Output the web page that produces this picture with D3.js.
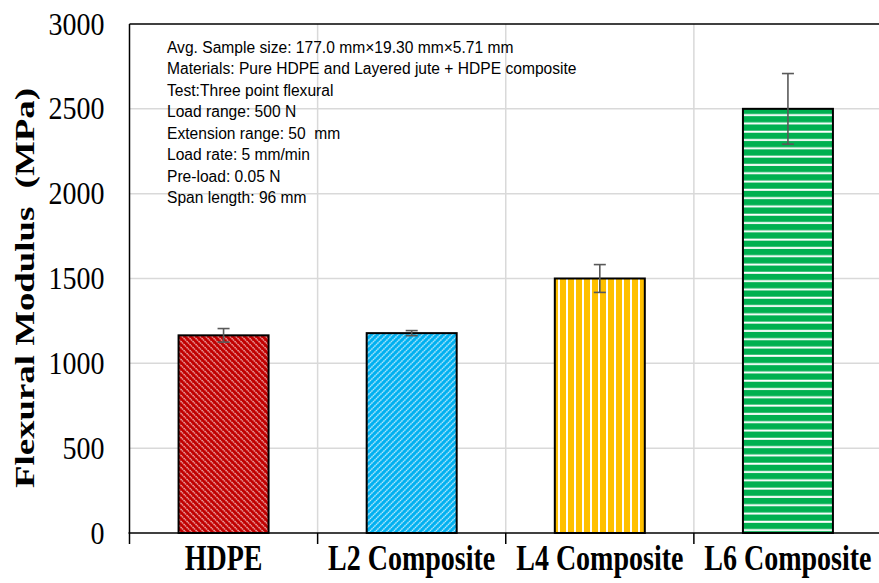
<!DOCTYPE html>
<html>
<head>
<meta charset="utf-8">
<script src="https://cdn.jsdelivr.net/npm/d3@7"></script>
<style>
  html, body { margin: 0; padding: 0; background: #fff; }
  svg { display: block; }
</style>
</head>
<body>
<svg id="chart" width="879" height="583"></svg>
<script>
const categories = ["HDPE", "L2 Composite", "L4 Composite", "L6 Composite"];
const modulus = [1165, 1178, 1500, 2500];
const errors = [40, 15, 82, 208];
const yTicks = [0, 500, 1000, 1500, 2000, 2500, 3000];
const yTitle = "Flexural Modulus  (MPa)";
const notes = [
  "Avg. Sample size: 177.0 mm×19.30 mm×5.71 mm",
  "Materials: Pure HDPE and Layered jute + HDPE composite",
  "Test:Three point flexural",
  "Load range: 500 N",
  "Extension range: 50  mm",
  "Load rate: 5 mm/min",
  "Pre-load: 0.05 N",
  "Span length: 96 mm"
];

(function () {
const svg = d3.select("#chart");
const pL = 129.5, pR = 882, pT = 24, pB = 533;
const serif = "'Liberation Serif', 'Times New Roman', serif";

const x = d3.scaleBand().domain(categories).range([pL, pR]).paddingInner(0).paddingOuter(0);
const y = d3.scaleLinear().domain([0, 3000]).range([pB, pT]);

const defs = svg.append("defs");
function diag(id, color, angle, lineColor) {
  const p = defs.append("pattern").attr("id", id).attr("patternUnits", "userSpaceOnUse")
    .attr("width", 4.24).attr("height", 4.24).attr("patternTransform", `rotate(${angle})`);
  p.append("rect").attr("width", 4.24).attr("height", 4.24).attr("fill", color);
  p.append("line").attr("x1", 1).attr("x2", 1).attr("y1", 0).attr("y2", 4.24)
    .attr("stroke", lineColor).attr("stroke-width", 1.2).attr("stroke-dasharray", "1.4 0.7");
}
diag("p0", "#C00000", -45, "#f8d0d0");
diag("p1", "#00B0F0", 45, "#e8f8ff");
{
  const p = defs.append("pattern").attr("id", "p2").attr("patternUnits", "userSpaceOnUse")
    .attr("width", 8).attr("height", 8);
  p.append("rect").attr("width", 8).attr("height", 8).attr("fill", "#FFC000");
  p.append("rect").attr("x", 6).attr("width", 2).attr("height", 8).attr("fill", "#fff");
}
{
  const p = defs.append("pattern").attr("id", "p3").attr("patternUnits", "userSpaceOnUse")
    .attr("width", 8).attr("height", 8.3);
  p.append("rect").attr("width", 8).attr("height", 8.3).attr("fill", "#00B050");
  p.append("rect").attr("y", 6.2).attr("width", 8).attr("height", 2).attr("fill", "#fff");
}

svg.append("g").selectAll("line").data(yTicks.filter(d => d > 0 && d < 3000)).join("line")
  .attr("x1", pL).attr("x2", 879).attr("y1", d => y(d)).attr("y2", d => y(d))
  .attr("stroke", "#d9d9d9").attr("stroke-width", 1.5);
svg.append("g").selectAll("line").data(categories.slice(1)).join("line")
  .attr("x1", d => x(d)).attr("x2", d => x(d)).attr("y1", pT).attr("y2", pB)
  .attr("stroke", "#d9d9d9").attr("stroke-width", 1.5);

svg.append("line").attr("x1", pL).attr("x2", 879).attr("y1", pT).attr("y2", pT)
  .attr("stroke", "#000").attr("stroke-width", 1.5);

const bw = 90;
svg.append("g").selectAll("rect").data(categories).join("rect")
  .attr("x", d => x(d) + x.bandwidth() / 2 - bw / 2)
  .attr("width", bw)
  .attr("y", (d, i) => y(modulus[i]))
  .attr("height", (d, i) => pB - y(modulus[i]))
  .attr("fill", (d, i) => `url(#p${i})`)
  .attr("stroke", "#000").attr("stroke-width", 2);

const eg = svg.append("g").attr("stroke", "#595959").attr("stroke-width", 1.6);
categories.forEach((c, i) => {
  const cx = x(c) + x.bandwidth() / 2;
  const y1 = y(modulus[i] + errors[i]), y2 = y(modulus[i] - errors[i]);
  eg.append("line").attr("x1", cx).attr("x2", cx).attr("y1", y1).attr("y2", y2);
  eg.append("line").attr("x1", cx - 6).attr("x2", cx + 6).attr("y1", y1).attr("y2", y1);
  eg.append("line").attr("x1", cx - 6).attr("x2", cx + 6).attr("y1", y2).attr("y2", y2);
});

const yAxis = svg.append("g").attr("transform", `translate(${pL},0)`)
  .call(d3.axisLeft(y).tickValues(yTicks).tickSize(0).tickPadding(25).tickFormat(d3.format("d")));
yAxis.select(".domain").attr("stroke", "#000").attr("stroke-width", 1.5).attr("d", `M0,${pT}V${pB}`);
yAxis.selectAll("text").attr("font-family", serif).attr("font-size", 28).attr("fill", "#000")
  .attr("x", null).attr("dy", null)
  .attr("transform", "translate(-25,10) scale(1,1.1)");

const xAxis = svg.append("g").attr("transform", `translate(0,${pB})`)
  .call(d3.axisBottom(x).tickSize(0).tickPadding(12));
xAxis.select(".domain").attr("stroke", "#000").attr("stroke-width", 1.5).attr("d", `M${pL - 1},0H${pR}`);
xAxis.selectAll("text").attr("font-family", serif)
  .attr("font-size", 28).attr("font-weight", "bold").attr("fill", "#000")
  .attr("y", null).attr("dy", null)
  .attr("transform", "translate(0,37) scale(1,1.25)");
svg.append("g").selectAll("line").data(categories.concat(["_end"])).join("line")
  .attr("x1", (d, i) => i < categories.length ? x(d) : pR)
  .attr("x2", (d, i) => i < categories.length ? x(d) : pR)
  .attr("y1", pB).attr("y2", pB + 11)
  .attr("stroke", "#000").attr("stroke-width", 1.5);

svg.append("text")
  .attr("transform", `translate(34,288) rotate(-90)`)
  .attr("text-anchor", "middle")
  .attr("font-family", serif)
  .attr("font-size", 27).attr("font-weight", "bold")
  .attr("textLength", 400).attr("lengthAdjust", "spacingAndGlyphs")
  .style("white-space", "pre")
  .text(yTitle);

svg.append("g").selectAll("text").data(notes).join("text")
  .attr("x", 167).attr("y", (d, i) => 52.5 + i * 21.5)
  .attr("font-family", "'Liberation Sans', Arial, sans-serif")
  .attr("font-size", 15.6).attr("fill", "#000")
  .style("white-space", "pre")
  .text(d => d);
})();
</script>
</body>
</html>
